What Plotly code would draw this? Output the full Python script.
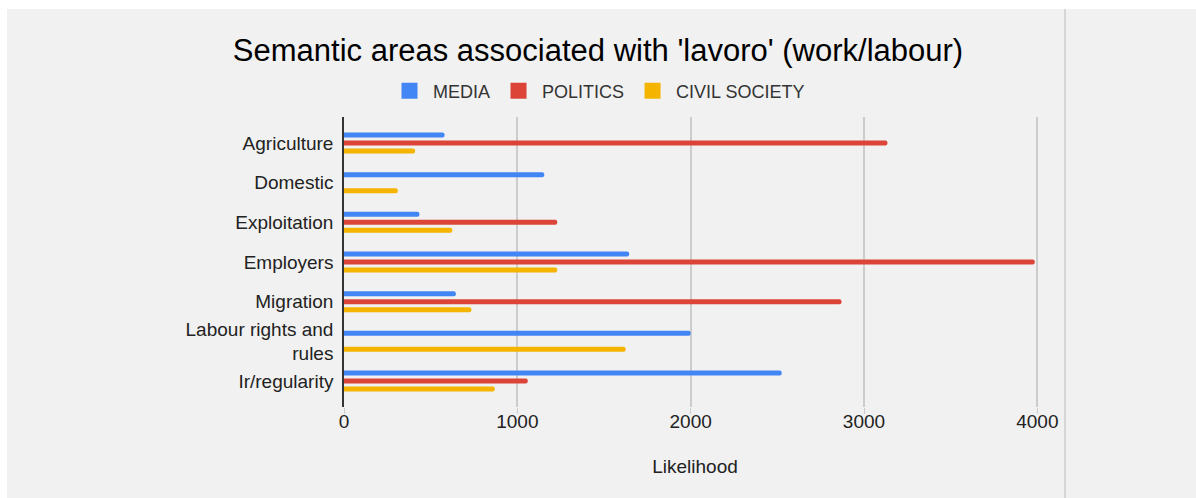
import plotly.graph_objects as go

categories = ["Agriculture", "Domestic", "Exploitation", "Employers", "Migration",
              "Labour rights and<br>rules", "Ir/regularity"]
media = [580, 1155, 435, 1645, 645, 2000, 2525]
politics = [3135, None, 1230, 3985, 2870, None, 1060]
civil_society = [410, 310, 625, 1230, 735, 1625, 870]

series = [("MEDIA", media, "#4285F4"),
          ("POLITICS", politics, "#DB4437"),
          ("CIVIL SOCIETY", civil_society, "#F4B400")]

FONT = "Liberation Sans, Arial, sans-serif"

fig = go.Figure()
for name, vals, col in series:
    fig.add_trace(go.Bar(
        y=categories, x=vals, name=name, orientation="h", showlegend=False,
        marker=dict(color=col, cornerradius=3, line=dict(width=0)),
    ))
# bigger square swatches for the legend
for name, vals, col in series:
    fig.add_trace(go.Scatter(
        x=[None], y=[None], mode="markers", name=name,
        marker=dict(symbol="square", size=16, color=col),
    ))

# plot area is 344..1046 px wide, 117..407 px tall
L, R, T, B = 344, 150, 117, 91
W, H = 1196, 498
pw, ph = W - L - R, H - T - B


def px(x):
    return (x - L) / pw


def py(y):
    return (H - B - y) / ph


fig.update_layout(
    width=W, height=H,
    margin=dict(l=L, r=R, t=T, b=B, autoexpand=False),
    paper_bgcolor="white",
    plot_bgcolor="#f1f1f1",
    barmode="group",
    bargap=0.395,
    bargroupgap=0.375,
    font=dict(family=FONT, color="#222", size=19),
    title=dict(text="Semantic areas associated with 'lavoro' (work/labour)",
               x=0.5, xref="container", xanchor="center",
               y=1 - 50 / H, yref="container", yanchor="middle",
               font=dict(size=31, color="#000", family=FONT)),
    legend=dict(orientation="h", x=0.5, xref="container", xanchor="center",
                y=1 - 91 / H, yref="container", yanchor="middle",
                itemwidth=37,
                font=dict(size=18, color="#333"), bgcolor="rgba(0,0,0,0)",
                traceorder="normal"),
    shapes=[
        dict(type="rect", xref="paper", yref="paper", layer="below",
             x0=px(7), x1=px(W + 5), y0=py(H + 5), y1=py(9),
             fillcolor="#f1f1f1", line=dict(width=0)),
        dict(type="line", xref="paper", yref="paper", layer="above",
             x0=px(1065), x1=px(1065), y0=py(H + 5), y1=py(9),
             line=dict(color="#bbbbbb", width=1)),
    ],
)

fig.update_xaxes(
    range=[0, 4050], tickvals=[0, 1000, 2000, 3000, 4000],
    showgrid=True, gridcolor="#cccccc", gridwidth=1.5, zeroline=False,
    ticks="outside", ticklen=6, tickcolor="#cccccc", ticklabelstandoff=-9,
    title=dict(text="Likelihood", standoff=28, font=dict(size=19)),
    tickfont=dict(size=19, color="#222"),
)
fig.update_yaxes(
    range=[6.655, -0.655], showgrid=False, zeroline=False,
    showline=True, linecolor="#333333", linewidth=1.5,
    ticks="", ticklabelstandoff=5,
    tickfont=dict(size=19, color="#222"),
)

fig.write_html("out.html", config={"displayModeBar": False},
               post_script="document.body.style.margin='0';")
